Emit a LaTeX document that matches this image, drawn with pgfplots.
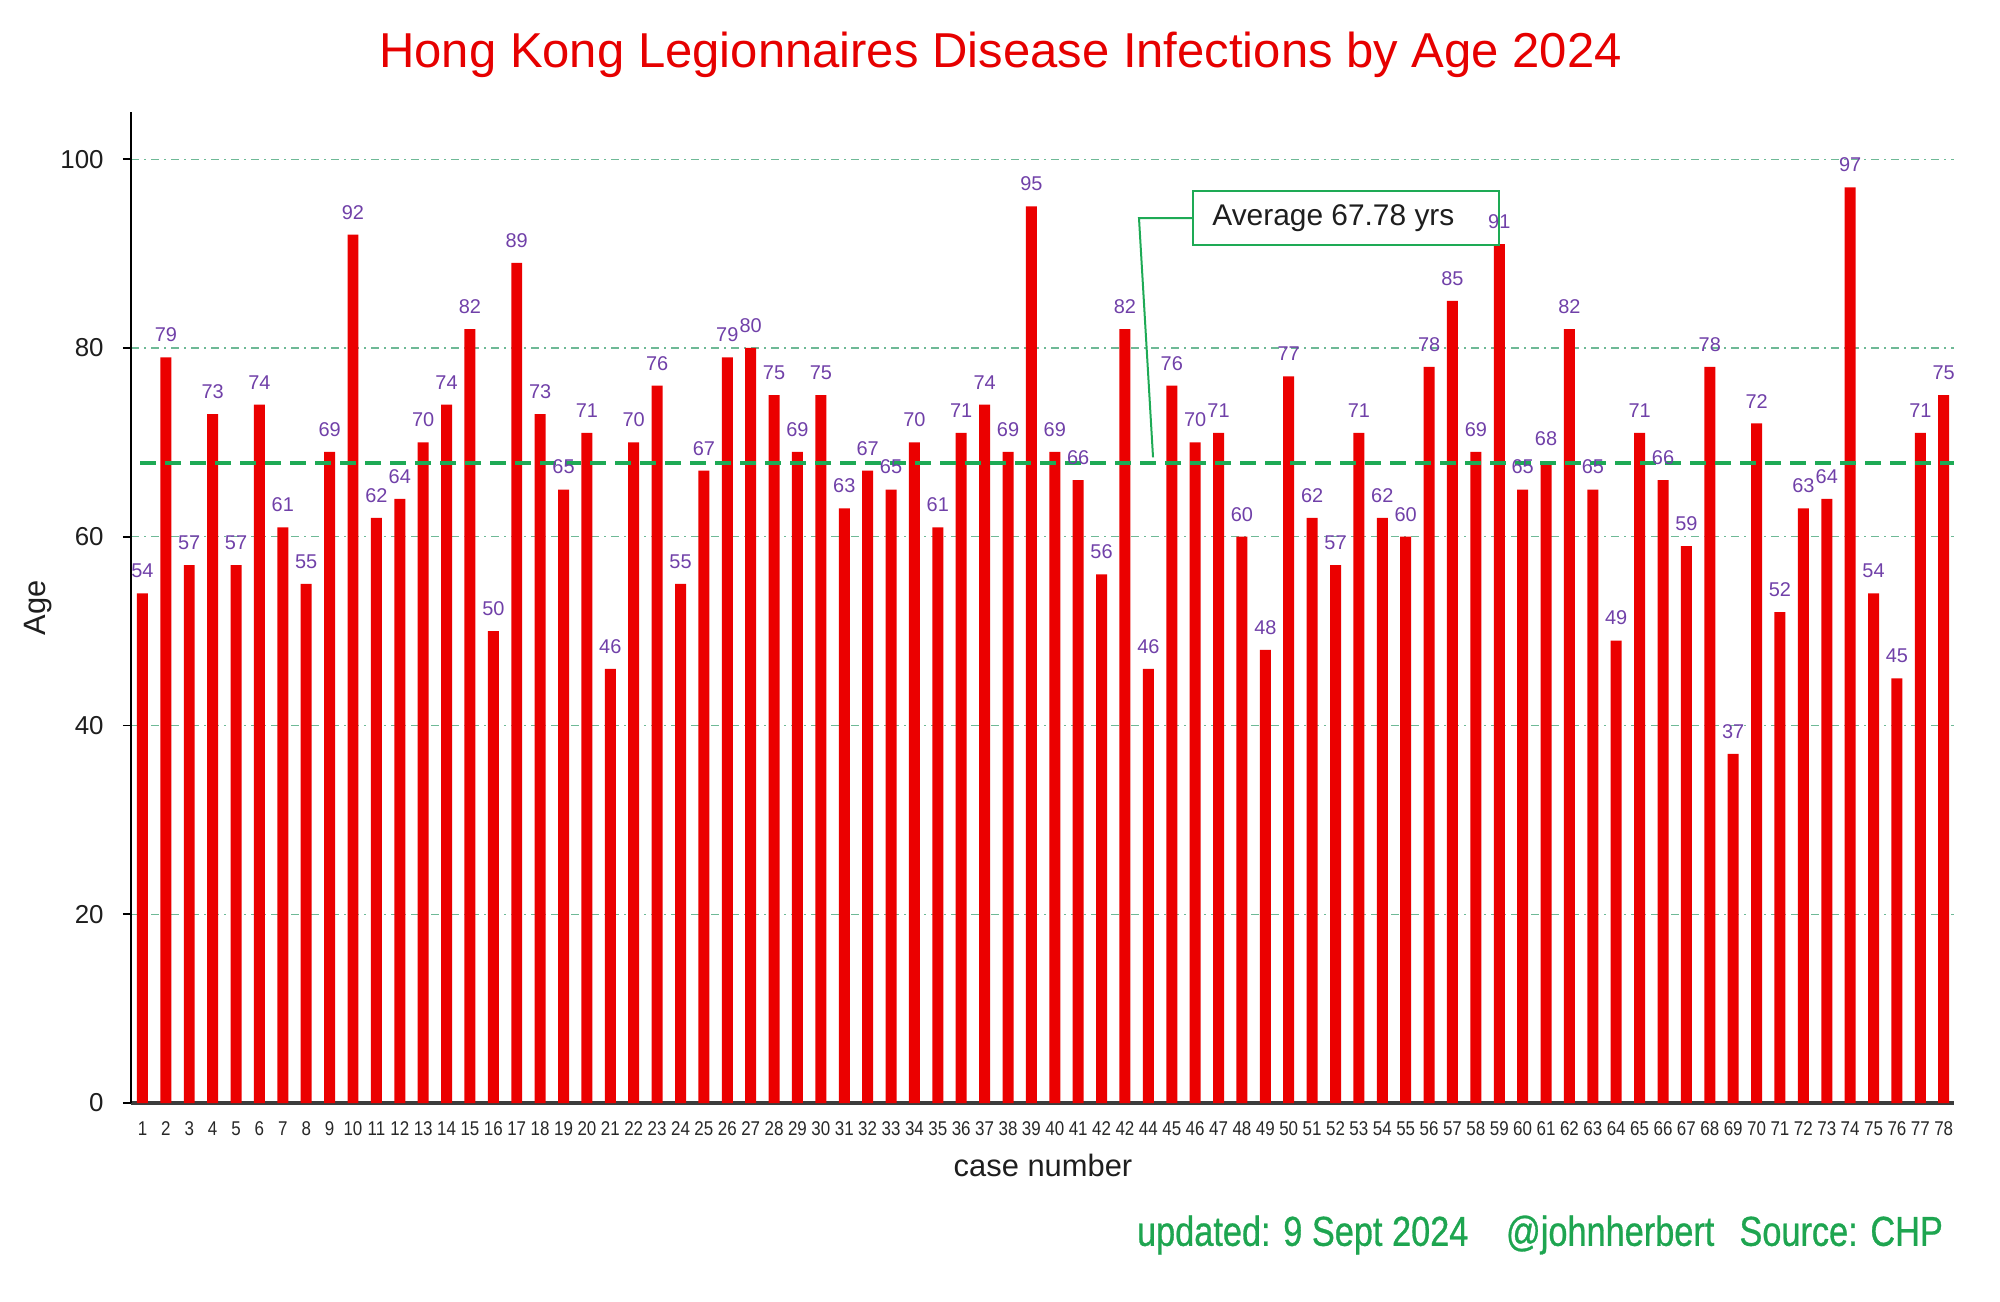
\documentclass[border=0pt]{standalone}
\usepackage{pgfplots}
\pgfplotsset{compat=1.18}
\usepackage{fontspec}
\setmainfont{Liberation Sans}
\newfontfamily\narrowfont[FakeStretch=0.85]{Liberation Sans}
\newfontfamily\footfont[FakeStretch=0.82, FakeBold=0.7]{Liberation Sans}
\definecolor{barred}{RGB}{235,0,0}
\definecolor{titlered}{RGB}{230,0,0}
\definecolor{lblpurple}{RGB}{112,64,168}
\definecolor{avggreen}{RGB}{30,170,85}
\definecolor{gridgreen}{RGB}{110,185,150}
\definecolor{footgreen}{RGB}{30,165,80}
\pgfplotstableread{
x y
1 54
2 79
3 57
4 73
5 57
6 74
7 61
8 55
9 69
10 92
11 62
12 64
13 70
14 74
15 82
16 50
17 89
18 73
19 65
20 71
21 46
22 70
23 76
24 55
25 67
26 79
27 80
28 75
29 69
30 75
31 63
32 67
33 65
34 70
35 61
36 71
37 74
38 69
39 95
40 69
41 66
42 56
43 82
44 46
45 76
46 70
47 71
48 60
49 48
50 77
51 62
52 57
53 71
54 62
55 60
56 78
57 85
58 69
59 91
60 65
61 68
62 82
63 65
64 49
65 71
66 66
67 59
68 78
69 37
70 72
71 52
72 63
73 64
74 97
75 54
76 45
77 71
78 75
}\agedata
\begin{document}
\begin{tikzpicture}
\useasboundingbox (-65.5bp,-99.5bp) rectangle (934.5bp,551.5bp);
\begin{axis}[
  scale only axis,
  width=911.5bp, height=495.5bp,
  at={(0,0)}, anchor=south west,
  xmin=0.51, xmax=78.44,
  ymin=0, ymax=105,
  axis x line*=bottom, axis y line*=left,
  x axis line style={draw={rgb,255:red,60;green,60;blue,60}, line width=1.6bp},
  y axis line style={draw=black, line width=1.1bp},
  xtick={1,...,78},
  xticklabels={1,2,3,4,5,6,7,8,9,10,11,12,13,14,15,16,17,18,19,20,21,22,23,24,25,26,27,28,29,30,31,32,33,34,35,36,37,38,39,40,41,42,42,44,45,46,47,48,49,50,51,52,53,54,55,56,57,58,59,60,61,62,63,64,65,66,67,68,69,70,71,72,73,74,75,76,77,78},
  ytick={0,20,40,60,80,100},
  /pgf/number format/assume math mode=true,
  xticklabel style={font=\narrowfont\fontsize{10}{10}\selectfont, color={rgb,255:red,40;green,40;blue,40}, inner sep=0pt, yshift=-5bp},
  yticklabel style={font=\fontsize{13}{13}\selectfont, color={rgb,255:red,30;green,30;blue,30}, inner sep=0pt, xshift=-9.5bp},
  x tick style={draw=none},
  y tick style={draw=black, line width=0.8bp},
  tick align=outside,
  major tick length=4bp,
  ymajorgrids,
  grid style={draw=gridgreen, line width=0.6bp, dash pattern=on 4bp off 2.5bp on 1bp off 2.5bp},
  clip=false,
]
\addplot[ybar, bar width=0.47, fill=barred, draw=none,
  nodes near coords,
  every node near coord/.append style={font=\fontsize{10}{10}\selectfont, text=lblpurple, anchor=south, inner sep=0pt, yshift=7.5bp},
] table[x=x, y=y] {\agedata};
\addplot[avggreen, line width=2.2bp, dash pattern=on 8bp off 4.5bp] coordinates {(0.9,67.78) (78.44,67.78)};
\draw[avggreen, line width=1.1bp, fill=white] (axis cs:45.9,90.9) rectangle (axis cs:59.0,96.6);
\node[anchor=west, inner sep=0pt, font=\fontsize{15}{15}\selectfont, text={rgb,255:red,30;green,30;blue,30}] at (axis cs:46.72,93.75) {Average 67.78 yrs};
\draw[avggreen, line width=1bp] (axis cs:45.9,93.75) -- (axis cs:43.6,93.75) -- (axis cs:44.2,68.4);
\end{axis}
\node[font=\fontsize{24.6}{24.6}\selectfont, text=titlered] at (434.8bp,524bp) {Hong Kong Legionnaires Disease Infections by Age 2024};
\node[font=\fontsize{15.5}{15.5}\selectfont, text={rgb,255:red,30;green,30;blue,30}] at (456bp,-31bp) {case number};
\node[font=\fontsize{15.5}{15.5}\selectfont, text={rgb,255:red,30;green,30;blue,30}, rotate=90] at (-46.5bp,247.5bp) {Age};
\node[anchor=east, font=\footfont\fontsize{21}{21}\selectfont, text=footgreen] at (909.5bp,-66bp) {updated: 9 Sept 2024\hspace{0.9em}@johnherbert\hspace{0.6em}Source: CHP};
\end{tikzpicture}
\end{document}
